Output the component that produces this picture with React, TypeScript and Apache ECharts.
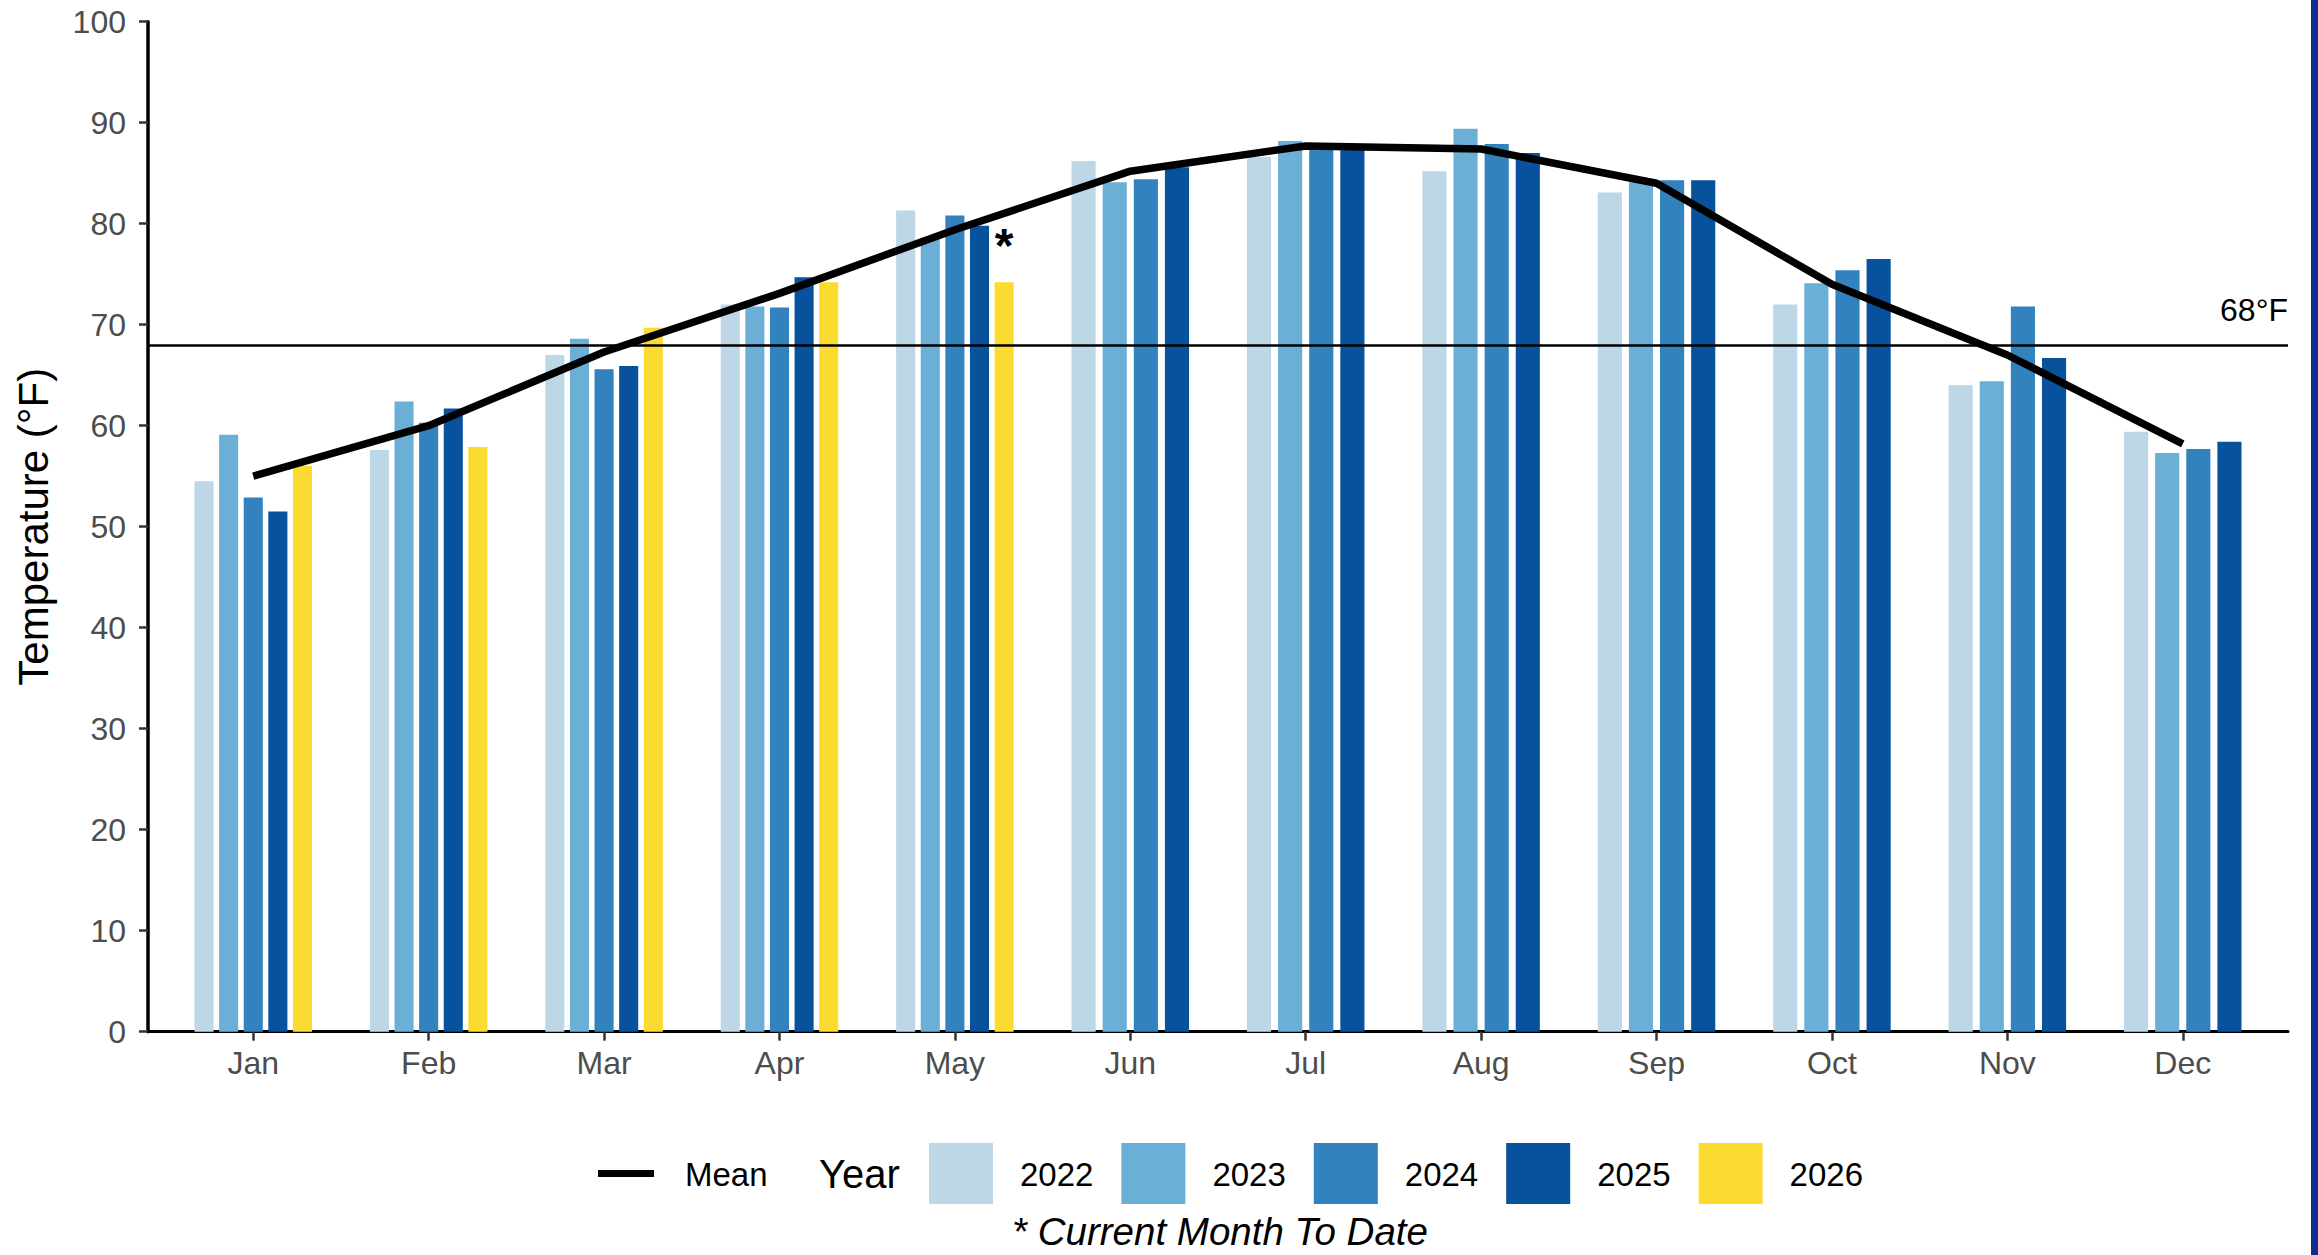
import React, { useEffect, useRef } from "react";
import * as echarts from "echarts";

const months = ["Jan", "Feb", "Mar", "Apr", "May", "Jun", "Jul", "Aug", "Sep", "Oct", "Nov", "Dec"];
const years = ["2022", "2023", "2024", "2025", "2026"];

const temps2022 = [54.5, 57.6, 67.0, 72.0, 81.3, 86.2, 86.6, 85.2, 83.1, 72.0, 64.0, 59.4];
const temps2023 = [59.1, 62.4, 68.6, 71.8, 78.6, 84.1, 88.2, 89.4, 84.1, 74.1, 64.4, 57.3];
const temps2024 = [52.9, 60.3, 65.6, 71.7, 80.8, 84.4, 87.5, 87.9, 84.3, 75.4, 71.8, 57.7];
const temps2025 = [51.5, 61.7, 65.9, 74.7, 79.8, 85.6, 87.5, 87.0, 84.3, 76.5, 66.7, 58.4];
const temps2026 = [56.0, 57.9, 69.7, 74.2, 74.2, null, null, null, null, null, null, null];
const meanTemps = [55.0, 60.0, 67.3, 73.1, 79.4, 85.2, 87.7, 87.4, 84.0, 74.0, 67.0, 58.2];

const thresholdF = 68;
const currentMonthIndex = 4;
const yTickValues = [0, 10, 20, 30, 40, 50, 60, 70, 80, 90, 100];
const yearColors = ["#bdd7e7", "#6baed6", "#3182bd", "#08519c", "#fbdb2f"];

const FONT = "'Liberation Sans', Arial, Helvetica, sans-serif";

export default function App() {
  const ref = useRef<HTMLDivElement>(null);

  useEffect(() => {
    if (!ref.current) return;
    const chart = echarts.init(ref.current, null, { renderer: "svg" });
    const yearValues = [temps2022, temps2023, temps2024, temps2025, temps2026];
    const idx = months.map((_, i) => i);
    const fiveSlot = idx.filter((i) => temps2026[i] != null);
    const fourSlot = idx.filter((i) => temps2026[i] == null);

    const series: any[] = [];
    years.forEach((y, k) => {
      const vals = yearValues[k];
      const groups = [
        { axis: 0, ids: fiveSlot },
        { axis: 1, ids: fourSlot },
      ];
      groups.forEach((g) => {
        const data = g.ids
          .filter((i) => vals[i] != null)
          .map((i) => {
            const item: any = { value: [i, vals[i]] };
            if (k === years.length - 1 && i === currentMonthIndex) {
              item.label = {
                show: true,
                position: "top",
                formatter: "*",
                fontSize: 48,
                fontWeight: "bold",
                color: "#000",
                distance: 13,
                fontFamily: FONT,
              };
            }
            return item;
          });
        if (!data.length) return;
        series.push({
          type: "bar",
          name: y,
          xAxisIndex: g.axis,
          yAxisIndex: 0,
          data,
          barCategoryGap: "33%",
          barGap: "29%",
          itemStyle: { color: yearColors[k] },
          silent: true,
        });
      });
    });

    series.push({
      type: "line",
      name: "Mean",
      xAxisIndex: 0,
      data: meanTemps.map((v, i) => [i, v]),
      showSymbol: false,
      symbol: "none",
      lineStyle: { color: "#000", width: 7.5, cap: "butt", join: "round" },
      z: 5,
      silent: true,
      markLine: {
        silent: true,
        symbol: "none",
        lineStyle: { color: "#000", width: 2.5, type: "solid" },
        label: {
          show: true,
          position: "insideEndTop",
          formatter: thresholdF + "°F",
          fontSize: 32,
          color: "#000",
          fontFamily: FONT,
          distance: [0, 19],
        },
        data: [{ yAxis: thresholdF }],
      },
    });

    const legendLeft = 929;
    const legendPitch = 192.4;
    const legendGraphics: any[] = [];
    legendGraphics.push({
      type: "line",
      shape: { x1: 598, y1: 1173.5, x2: 654, y2: 1173.5 },
      style: { stroke: "#000", lineWidth: 7 },
    });
    legendGraphics.push({
      type: "text",
      x: 685,
      y: 1174,
      style: { text: "Mean", fill: "#000", fontSize: 33, fontFamily: FONT, align: "left", verticalAlign: "middle" },
    });
    legendGraphics.push({
      type: "text",
      x: 819,
      y: 1174,
      style: { text: "Year", fill: "#000", fontSize: 40, fontFamily: FONT, align: "left", verticalAlign: "middle" },
    });
    years.forEach((y, k) => {
      const x0 = legendLeft + k * legendPitch;
      legendGraphics.push({
        type: "rect",
        shape: { x: x0, y: 1143, width: 64, height: 61 },
        style: { fill: yearColors[k] },
      });
      legendGraphics.push({
        type: "text",
        x: x0 + 91,
        y: 1174,
        style: { text: y, fill: "#000", fontSize: 33, fontFamily: FONT, align: "left", verticalAlign: "middle" },
      });
    });
    legendGraphics.push({
      type: "text",
      x: 1220,
      y: 1231,
      style: {
        text: "* Current Month To Date",
        fill: "#000",
        fontSize: 38.5,
        fontStyle: "italic",
        fontFamily: FONT,
        align: "center",
        verticalAlign: "middle",
      },
    });
    legendGraphics.push({
      type: "rect",
      shape: { x: 2311, y: 0, width: 7, height: 1255 },
      style: { fill: "#0f2e8e" },
    });

    const xCommon = {
      type: "value",
      min: -0.6,
      max: 11.6,
      gridIndex: 0,
    };

    chart.setOption({
      animation: false,
      backgroundColor: "#fff",
      textStyle: { fontFamily: FONT },
      grid: { left: 148, top: 21.7, width: 2140, height: 1010, containLabel: false },
      xAxis: [
        {
          ...xCommon,
          axisLine: { show: true, onZero: false, lineStyle: { color: "#000", width: 3 } },
          axisTick: { show: true, length: 9, lineStyle: { color: "#333", width: 2.5 }, customValues: idx },
          axisLabel: {
            show: true,
            customValues: idx,
            formatter: (v: number) => months[Math.round(v)] ?? "",
            fontSize: 32,
            color: "#4d4d4d",
            margin: 15,
            fontFamily: FONT,
          },
          splitLine: { show: false },
        },
        {
          ...xCommon,
          show: false,
          axisLine: { onZero: false },
          splitLine: { show: false },
        },
      ],
      yAxis: {
        type: "value",
        min: 0,
        max: 100,
        interval: 10,
        name: "Temperature (°F)",
        nameLocation: "middle",
        nameRotate: 90,
        nameGap: 94,
        nameTextStyle: { fontSize: 42, color: "#000", fontFamily: FONT },
        axisLine: { show: true, onZero: false, lineStyle: { color: "#000", width: 3.5 } },
        axisTick: { show: true, length: 9, lineStyle: { color: "#333", width: 2.5 } },
        axisLabel: {
          fontSize: 32,
          color: "#4d4d4d",
          margin: 22,
          fontFamily: FONT,
          formatter: (v: number) => (yTickValues.includes(v) ? String(v) : ""),
        },
        splitLine: { show: false },
      },
      graphic: legendGraphics,
      series,
    });

    return () => chart.dispose();
  }, []);

  return (
    <div
      ref={ref}
      style={{ position: "fixed", left: 0, top: 0, width: 2318, height: 1255, background: "#fff" }}
    />
  );
}
